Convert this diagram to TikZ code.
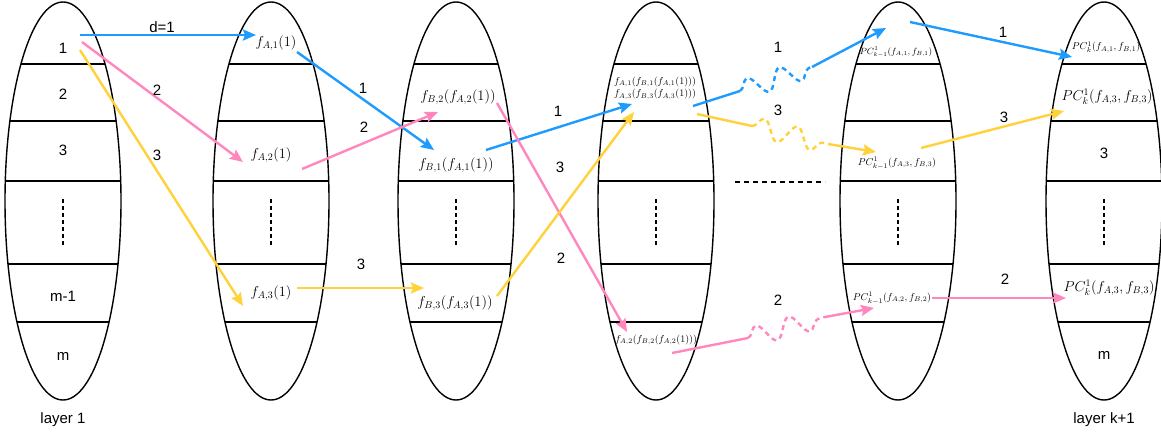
\documentclass[tikz,border=0pt]{standalone}
\usepackage[no-math]{fontspec}
\newfontfamily\lab{Liberation Sans}
\usetikzlibrary{shapes.geometric,arrows.meta,decorations.pathmorphing}
\definecolor{cblue}{RGB}{30,155,255}
\definecolor{cpink}{RGB}{255,135,190}
\definecolor{cyel}{RGB}{255,210,60}
\begin{document}
\begin{tikzpicture}[x=1pt,y=-1pt,
  layer/.style={draw, ellipse, line width=1.4pt, minimum width=116pt, minimum height=398pt, inner sep=0pt,
    path picture={\foreach \yy in {64,121,181,264,322}
      \draw[line width=1.4pt] ([shift={(-70,\yy-201)}]path picture bounding box.center) -- ++(140,0);
      \draw[line width=1.6pt, dash pattern=on 4pt off 3pt] ([shift={(0,-2)}]path picture bounding box.center) -- ++(0,47);}},
  lbl/.style={font=\lab\fontsize{15}{18}\selectfont, inner sep=0pt},
  mA/.style={font=\fontsize{14}{16}\selectfont, inner sep=0pt},
  mB/.style={font=\fontsize{10}{12.5}\selectfont, inner sep=0pt, align=center},
  mC/.style={font=\fontsize{9}{11}\selectfont, inner sep=0pt},
  arr/.style={line width=2.4pt, -{Stealth[length=13pt,width=11pt,inset=2pt]}},
  seg/.style={line width=2.4pt},
  wave/.style={line width=2.4pt, dash pattern=on 5pt off 4pt, decorate,
    decoration={snake, segment length=34pt, amplitude=10pt}},
  ]
\useasboundingbox (0,0) rectangle (1161,437);

% layers
\node[layer] (L1) at (63,201) {};
\node[layer] (L2) at (271,201) {};
\node[layer] (L3) at (456,201) {};
\node[layer] (L4) at (656,201) {};
\node[layer] (L5) at (898,201) {};
\node[layer] (L6) at (1104,201) {};

% layer 1 texts
\node[lbl] (a1) at (63,48) {1};
\node[lbl] (a2) at (63,94) {2};
\node[lbl] (a3) at (63,150) {3};
\node[lbl] (am1) at (63,296) {m-1};
\node[lbl] (am) at (63,356) {m};
\node[lbl] (lay1) at (63,420) {layer 1};

% layer 2
\node[mA] (t21) at (276,43) {$f_{A,1}(1)$};
\node[mA] (t22) at (271,155) {$f_{A,2}(1)$};
\node[mA] (t23) at (271,293) {$f_{A,3}(1)$};

% layer 3
\node[mA] (t31) at (458,97) {$f_{B,2}(f_{A,2}(1))$};
\node[mA] (t32) at (456,165) {$f_{B,1}(f_{A,1}(1))$};
\node[mA] (t33) at (455,303) {$f_{B,3}(f_{A,3}(1))$};

% layer 4
\node[mB] (t41) at (655,88) {$f_{A,1}(f_{B,1}(f_{A,1}(1)))$\\$f_{A,3}(f_{B,3}(f_{A,3}(1)))$};
\node[mB] (t42) at (656,340) {$f_{A,2}(f_{B,2}(f_{A,2}(1)))$};

% layer 5
\node[mC] (t51) at (896,52) {$PC^1_{k-1}(f_{A,1},f_{B,1})$};
\node[mB] (t52) at (897,163) {$PC^1_{k-1}(f_{A,3},f_{B,3})$};
\node[mB] (t53) at (892,298) {$PC^1_{k-1}(f_{A,2},f_{B,2})$};

% layer 6
\node[mB] (t61) at (1106,47) {$PC^1_k(f_{A,1},f_{B,1})$};
\node[mA] (t62) at (1107,97) {$PC^1_k(f_{A,3},f_{B,3})$};
\node[lbl] (t63) at (1104,153) {3};
\node[mA] (t64) at (1109,288) {$PC^1_k(f_{A,3},f_{B,3})$};
\node[lbl] (t65) at (1104,355) {m};
\node[lbl] (lay6) at (1104,420) {layer k+1};

% middle dashed line
\coordinate (dl1) at (735,182);
\coordinate (dl2) at (825,182);
\draw[line width=1.6pt, dash pattern=on 5pt off 4pt] (dl1) -- (dl2);

% endpoints
\coordinate (b1s) at (80,35);   \coordinate (b1e) at (256,35);
\coordinate (b2s) at (297,52);  \coordinate (b2e) at (434,150);
\coordinate (b3s) at (486,150); \coordinate (b3e) at (632,104);
\coordinate (b4s) at (693,106); \coordinate (b4a) at (740,91);
\coordinate (b4b) at (812,67);  \coordinate (b4e) at (886,28);
\coordinate (b5s) at (910,22);  \coordinate (b5e) at (1072,57);

\coordinate (p1s) at (82,42);   \coordinate (p1e) at (243,162);
\coordinate (p2s) at (302,169); \coordinate (p2e) at (438,112);
\coordinate (p3s) at (497,103); \coordinate (p3e) at (627,332);
\coordinate (p4s) at (672,353); \coordinate (p4a) at (748,338);
\coordinate (p4b) at (825,317); \coordinate (p4e) at (874,308);
\coordinate (p5s) at (932,298); \coordinate (p5e) at (1066,298);

\coordinate (y1s) at (80,50);   \coordinate (y1e) at (243,306);
\coordinate (y2s) at (297,288); \coordinate (y2e) at (424,288);
\coordinate (y3s) at (497,296); \coordinate (y3e) at (634,112);
\coordinate (y4s) at (697,114); \coordinate (y4a) at (752,126);
\coordinate (y4b) at (828,144); \coordinate (y4e) at (876,152);
\coordinate (y5s) at (921,148); \coordinate (y5e) at (1064,111);

% blue
\draw[arr, cblue] (b1s) -- (b1e);
\draw[arr, cblue] (b2s) -- (b2e);
\draw[arr, cblue] (b3s) -- (b3e);
\draw[seg, cblue] (b4s) -- (b4a);
\draw[wave, cblue] (b4a) -- (b4b);
\draw[arr, cblue] (b4b) -- (b4e);
\draw[arr, cblue] (b5s) -- (b5e);

% pink
\draw[arr, cpink] (p1s) -- (p1e);
\draw[arr, cpink] (p2s) -- (p2e);
\draw[arr, cpink] (p3s) -- (p3e);
\draw[seg, cpink] (p4s) -- (p4a);
\draw[wave, cpink] (p4a) -- (p4b);
\draw[arr, cpink] (p4b) -- (p4e);
\draw[arr, cpink] (p5s) -- (p5e);

% yellow
\draw[arr, cyel] (y1s) -- (y1e);
\draw[arr, cyel] (y2s) -- (y2e);
\draw[arr, cyel] (y3s) -- (y3e);
\draw[seg, cyel] (y4s) -- (y4a);
\draw[wave, cyel] (y4a) -- (y4b);
\draw[arr, cyel] (y4b) -- (y4e);
\draw[arr, cyel] (y5s) -- (y5e);

% arrow labels
\node[lbl] (ld1) at (162,27) {d=1};
\node[lbl] (lb2) at (363,88) {1};
\node[lbl] (lb3) at (558,111) {1};
\node[lbl] (lb4) at (778,47) {1};
\node[lbl] (lb5) at (1003,32) {1};
\node[lbl] (lp1) at (157,90) {2};
\node[lbl] (lp2) at (364,127) {2};
\node[lbl] (lp3) at (561,258) {2};
\node[lbl] (lp4) at (778,300) {2};
\node[lbl] (lp5) at (1005,279) {2};
\node[lbl] (ly1) at (157,155) {3};
\node[lbl] (ly2) at (361,264) {3};
\node[lbl] (ly3) at (560,167) {3};
\node[lbl] (ly4) at (778,110) {3};
\node[lbl] (ly5) at (1004,117) {3};
\end{tikzpicture}
\end{document}
